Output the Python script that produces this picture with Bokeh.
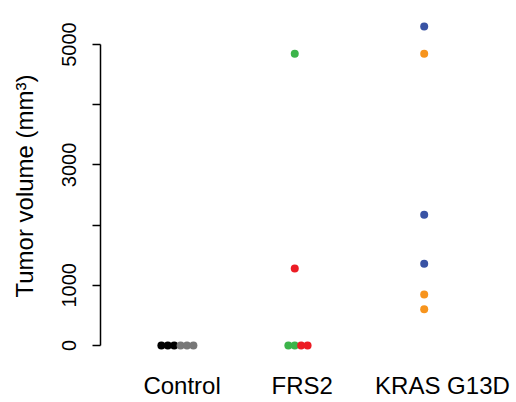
from bokeh.plotting import figure
from bokeh.models import Range1d, FixedTicker
from bokeh.embed import file_html
from bokeh.resources import INLINE

# ---- data ----
groups = ["Control", "FRS2", "KRAS G13D"]
group_pos = [1.0, 1.951, 3.0]          # x centre of each group's points
label_pos = [1.038, 2.011, 3.148]      # x of each category label
y_ticks = [0, 1000, 2000, 3000, 4000, 5000]
y_tick_labels = ["0", "1000", "", "3000", "", "5000"]

control_black = [0, 0, 0]
control_gray = [0, 0, 0]
frs2_green = [4845, 0, 0]
frs2_red = [1279, 0, 0]
kras_blue = [5299, 2171, 1357]
kras_orange = [4845, 847, 603]

# stacking slots (layout only: dodge of tied points)
STEP = 0.0519
series = [
    (0, control_black, [-2.5, -1.5, -0.5], "#000000"),
    (0, control_gray, [0.5, 1.5, 2.5], "#777777"),
    (1, frs2_green, [0, -1, 0], "#3cb44a"),
    (1, frs2_red, [0, 1, 2], "#ec1c24"),
    (2, kras_blue, [0, 0, 0], "#3953a4"),
    (2, kras_orange, [0, 0, 0], "#f7941d"),
]

FONT = "Liberation Sans"

p = figure(width=516, height=402, output_backend="svg", toolbar_location=None,
           x_range=Range1d(0.3768, 3.748), y_range=Range1d(-216, 5515),
           min_border_left=100, min_border_right=0, min_border_top=13,
           min_border_bottom=44)
p.outline_line_color = None
p.grid.visible = False

for gi, vals, slots, col in series:
    xs = [group_pos[gi] + s * STEP for s in slots]
    p.scatter(xs, vals, size=8, fill_color=col, line_color=None)

ax = p.yaxis[0]
ax.ticker = FixedTicker(ticks=y_ticks)
ax.major_label_overrides = {t: l for t, l in zip(y_ticks, y_tick_labels)}
ax.bounds = (0, 5000)
ax.major_label_orientation = "vertical"
ax.major_tick_out = 8
ax.major_tick_in = 0
ax.minor_tick_line_color = None
ax.axis_line_width = 1.5
ax.major_tick_line_width = 1.5
ax.axis_line_color = "#000000"
ax.major_tick_line_color = "#000000"
ax.major_label_text_font = FONT
ax.major_label_text_font_size = "20px"
ax.major_label_text_color = "#000000"
ax.major_label_standoff = 16
ax.axis_label = "Tumor volume (mm³)"
ax.axis_label_text_font = FONT
ax.axis_label_text_font_size = "24px"
ax.axis_label_text_font_style = "normal"
ax.axis_label_text_color = "#000000"
ax.axis_label_standoff = 22

xa = p.xaxis[0]
xa.ticker = FixedTicker(ticks=label_pos)
xa.major_label_overrides = {t: g for t, g in zip(label_pos, groups)}
xa.axis_line_color = None
xa.major_tick_line_color = None
xa.minor_tick_line_color = None
xa.major_tick_out = 0
xa.major_tick_in = 0
xa.major_label_standoff = 13
xa.major_label_text_font = FONT
xa.major_label_text_font_size = "24px"
xa.major_label_text_color = "#000000"

open("out.html", "w").write(file_html(p, INLINE))
